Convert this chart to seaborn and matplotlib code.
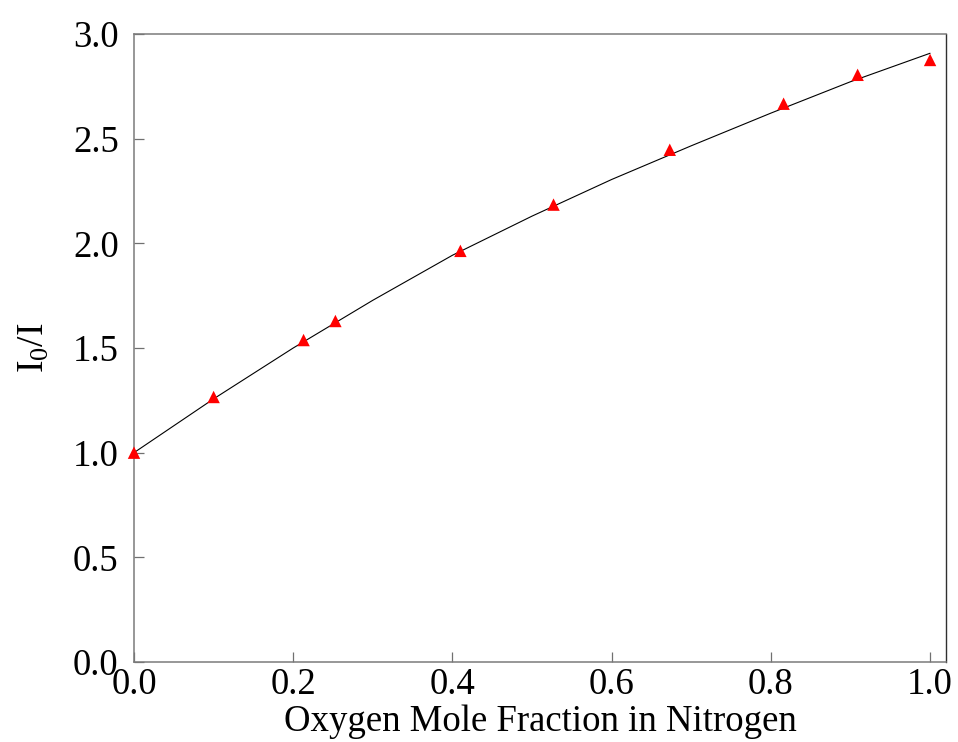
import matplotlib
matplotlib.use("Agg")
import matplotlib.pyplot as plt
import seaborn as sns
import pandas as pd

# Measured Stern-Volmer ratios versus oxygen mole fraction
mole_fraction = [0.0, 0.100, 0.213, 0.253, 0.410, 0.527, 0.673, 0.816, 0.909, 1.000]
intensity_ratio = [1.00, 1.266, 1.538, 1.629, 1.964, 2.185, 2.447, 2.667, 2.805, 2.876]

# Fitted curve through the measurements
fit_fraction = [0.0, 0.1, 0.2, 0.3, 0.4, 0.5, 0.6, 0.7, 0.8, 0.9, 1.0]
fit_ratio = [1.000, 1.257, 1.500, 1.728, 1.943, 2.130, 2.305, 2.466, 2.622, 2.772, 2.908]

x_ticks = [0.0, 0.2, 0.4, 0.6, 0.8, 1.0]
y_ticks = [0.0, 0.5, 1.0, 1.5, 2.0, 2.5, 3.0]

sns.set_theme(style="white")
plt.rcParams["font.family"] = ["Liberation Serif", "DejaVu Serif"]
plt.rcParams["mathtext.fontset"] = "custom"
plt.rcParams["mathtext.rm"] = "Liberation Serif"
plt.rcParams["mathtext.it"] = "Liberation Serif:italic"
plt.rcParams["text.color"] = "black"
plt.rcParams["axes.labelcolor"] = "black"

points = pd.DataFrame({"x": mole_fraction, "y": intensity_ratio})
fit = pd.DataFrame({"x": fit_fraction, "y": fit_ratio})

fig = plt.figure(figsize=(9.58, 7.42), dpi=100)
ax = fig.add_axes([134 / 958, 1 - 662 / 742, (946 - 134) / 958, (662 - 34) / 742])

sns.lineplot(data=fit, x="x", y="y", ax=ax, color="black", linewidth=0.8,
             sort=True, zorder=2)
sns.scatterplot(data=points, x="x", y="y", ax=ax, marker="^", s=80,
                color="red", edgecolor="none", zorder=3, clip_on=False)

ax.set_xlim(0.0, 1.02)
ax.set_ylim(0.0, 3.0)
ax.set_xticks(x_ticks)
ax.set_yticks(y_ticks)
ax.set_xticklabels([f"{v:.1f}" for v in x_ticks])
ax.set_yticklabels([f"{v:.1f}" for v in y_ticks])

ax.tick_params(axis="both", which="major", direction="in", length=7.5, width=0.9,
               color="#707070", labelsize=26.5, labelcolor="black",
               left=True, bottom=True, top=False, right=False)
ax.tick_params(axis="y", pad=11)
ax.tick_params(axis="x", pad=4)

for side in ["left", "bottom", "top"]:
    ax.spines[side].set_color("#7a7a7a")
    ax.spines[side].set_linewidth(1.1)
ax.spines["right"].set_color("#303030")
ax.spines["right"].set_linewidth(1.0)

ax.set_xlabel("Oxygen Mole Fraction in Nitrogen", fontsize=26.5, labelpad=1.5)
ax.set_ylabel(r"I$_\mathrm{0}$/I", fontsize=27, labelpad=15)

fig.savefig("out.png", dpi=100, facecolor="white")
